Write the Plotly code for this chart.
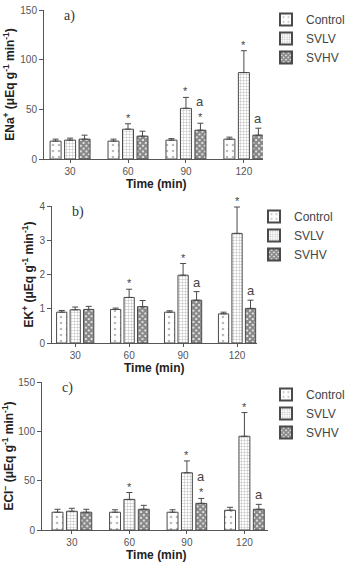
import plotly.graph_objects as go

times = ["30", "60", "90", "120"]
groups = ["Control", "SVLV", "SVHV"]

# Panel a) ENa+
na_control = [18, 18, 19, 20]
na_control_err = [2, 2, 1.5, 2]
na_svlv = [19, 30, 51, 87]
na_svlv_err = [2, 5.5, 11, 22]
na_svhv = [20, 23, 29, 24]
na_svhv_err = [4, 5, 7, 7]

# Panel b) EK+
k_control = [0.90, 0.98, 0.90, 0.85]
k_control_err = [0.05, 0.04, 0.04, 0.05]
k_svlv = [0.97, 1.33, 1.98, 3.20]
k_svlv_err = [0.08, 0.24, 0.34, 0.77]
k_svhv = [0.98, 1.06, 1.25, 1.01]
k_svhv_err = [0.09, 0.18, 0.25, 0.24]

# Panel c) ECl-
cl_control = [18, 18, 18, 20]
cl_control_err = [3, 2.5, 2.5, 3]
cl_svlv = [19, 31, 58, 95]
cl_svlv_err = [3, 7, 12, 24]
cl_svhv = [18, 21, 27, 21]
cl_svhv_err = [3, 4, 5, 5]

# significance marks: (group, time index, text)
marks = [("SVLV", 1, "*"), ("SVLV", 2, "*"), ("SVLV", 3, "*"),
         ("SVHV", 2, "*"), ("SVHV", 2, "a"), ("SVHV", 3, "a")]
marks_b = [("SVLV", 1, "*"), ("SVLV", 2, "*"), ("SVLV", 3, "*"),
           ("SVHV", 2, "a"), ("SVHV", 3, "a")]

W, H = 346, 563
FONT = "Liberation Sans, Arial, sans-serif"
EDGE = "#4a4a4a"

styles = {
    "Control": dict(shape=".", fgcolor="#777777", bgcolor="white", size=6, solidity=0.15),
    "SVLV": dict(shape="+", fgcolor="#777777", bgcolor="white", size=3, solidity=0.3),
    "SVHV": dict(shape="x", fgcolor="#111111", bgcolor="white", size=4, solidity=0.8),
}
offsets = {"Control": -0.25, "SVLV": 0.0, "SVHV": 0.25}

panels = [
    dict(vals=[na_control, na_svlv, na_svhv], errs=[na_control_err, na_svlv_err, na_svhv_err],
         xd=[44/W, 263/W], yd=[1-159/H, 1-10/H], xr=[-0.45, 3.33], yr=[0, 150], dt=50,
         title="ENa<sup>+</sup> (μEq g<sup>-1</sup> min<sup>-1</sup>)", lab="a)", marks=marks,
         leg=dict(x=266/W, y=1-5/H), xt=(156, 184, "middle")),
    dict(vals=[k_control, k_svlv, k_svhv], errs=[k_control_err, k_svlv_err, k_svhv_err],
         xd=[52/W, 257/W], yd=[1-343/H, 1-206/H], xr=[-0.43, 3.37], yr=[0, 4], dt=1,
         title="EK<sup>+</sup> (μEq g<sup>-1</sup> min<sup>-1</sup>)", lab="b)", marks=marks_b,
         leg=dict(x=254/W, y=1-202/H), xt=(154, 368, "middle")),
    dict(vals=[cl_control, cl_svlv, cl_svhv], errs=[cl_control_err, cl_svlv_err, cl_svhv_err],
         xd=[42/W, 268/W], yd=[1-530/H, 1-382/H], xr=[-0.52, 3.41], yr=[0, 150], dt=50,
         title="ECl<sup>−</sup> (μEq g<sup>-1</sup> min<sup>-1</sup>)", lab="c)", marks=marks,
         leg=dict(x=266/W, y=1-380/H), xt=(156, 563, "bottom")),
]

fig = go.Figure()
annotations = []
layout = {}
xpos = list(range(len(times)))
for i, p in enumerate(panels):
    n = "" if i == 0 else str(i + 1)
    xa, ya = "x" + n, "y" + n
    legname = "legend" + n
    for g, vals, errs in zip(groups, p["vals"], p["errs"]):
        fig.add_trace(go.Bar(
            x=[xx + offsets[g] for xx in xpos], y=vals, width=0.19, name=g,
            xaxis=xa, yaxis=ya, legend=legname,
            marker=dict(color="white", line=dict(color=EDGE, width=1), pattern=styles[g]),
            error_y=dict(type="data", array=errs, arrayminus=[0]*len(errs), symmetric=False,
                         color=EDGE, thickness=1, width=3),
        ))
    lookup = dict(zip(groups, zip(p["vals"], p["errs"])))
    stacked = {}
    for g, ti, txt in p["marks"]:
        v, e = lookup[g]
        top = v[ti] + e[ti]
        k = (g, ti)
        lvl = stacked.get(k, 0)
        stacked[k] = lvl + 1
        annotations.append(dict(
            x=xpos[ti] + offsets[g], y=top, xref=xa, yref=ya, text=txt, showarrow=False,
            yanchor="bottom", yshift=(0 if lvl == 0 else 12) + (-2 if txt == "*" else 0),
            font=dict(family=FONT, size=11 if txt == "*" else 13, color="#444"),
        ))
    annotations.append(dict(
        x=p["xd"][0] + 18/W, y=p["yd"][1], xref="paper", yref="paper", text=p["lab"],
        showarrow=False, xanchor="left", yanchor="top", yshift=4,
        font=dict(family="Liberation Serif, Times New Roman, serif", size=14, color="#333"),
    ))
    annotations.append(dict(
        x=p["xt"][0]/W, y=1 - p["xt"][1]/H, xref="paper", yref="paper",
        text="<b>Time (min)</b>", showarrow=False, xanchor="center", yanchor=p["xt"][2],
        borderpad=0, font=dict(family=FONT, size=12, color="#222"),
    ))
    layout["xaxis" + n] = dict(
        domain=p["xd"], anchor=ya, range=p["xr"], tickvals=xpos, ticktext=times,
        showline=True, linecolor="#555", linewidth=1, ticks="outside", ticklen=3,
        tickcolor="#555", showgrid=False, zeroline=False, automargin=False,
        tickfont=dict(family=FONT, size=10, color="#555"),
    )
    layout["yaxis" + n] = dict(
        domain=p["yd"], anchor=xa, range=p["yr"], dtick=p["dt"],
        showline=True, linecolor="#555", linewidth=1, ticks="outside", ticklen=4,
        tickcolor="#555", showgrid=False, zeroline=False, automargin=False,
        tickfont=dict(family=FONT, size=10, color="#555"),
        title=dict(text="<b>" + p["title"] + "</b>", standoff=3,
                   font=dict(family=FONT, size=12, color="#222")),
    )
    layout[legname] = dict(
        x=p["leg"]["x"], y=p["leg"]["y"], xanchor="left", yanchor="top",
        bgcolor="rgba(0,0,0,0)", font=dict(family=FONT, size=12, color="#444"),
        tracegroupgap=0, itemsizing="constant",
    )

fig.update_layout(
    width=W, height=H, margin=dict(l=0, r=0, t=0, b=0, autoexpand=False),
    paper_bgcolor="white", plot_bgcolor="white",
    barmode="overlay", showlegend=True, annotations=annotations,
    **layout,
)
fig.write_html("out.html")
